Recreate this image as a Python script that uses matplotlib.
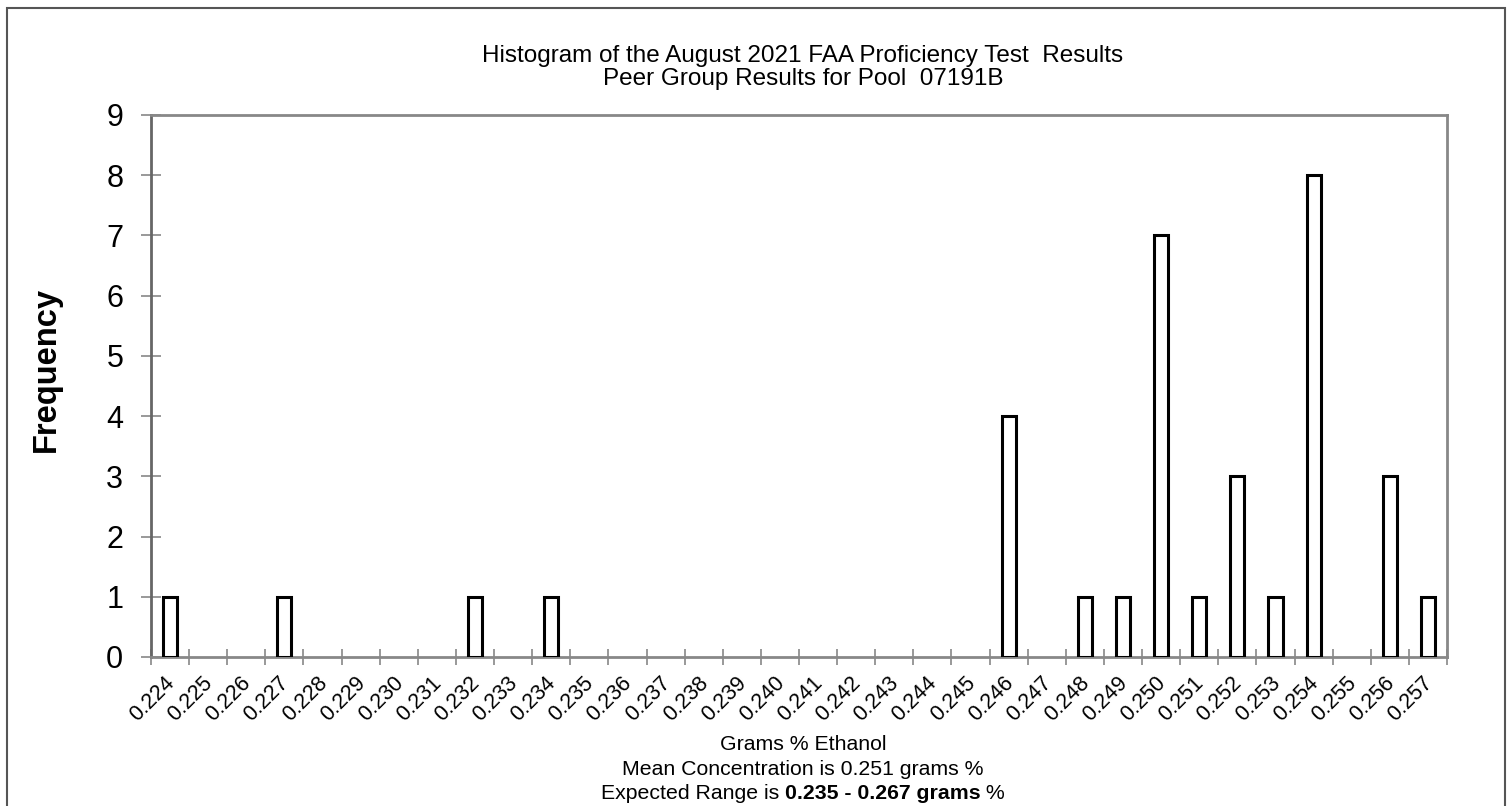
import matplotlib
matplotlib.use("Agg")
import matplotlib.pyplot as plt
from matplotlib.patches import Rectangle
from matplotlib.transforms import ScaledTranslation
import numpy as np

plt.rcParams['font.family'] = ['Liberation Sans', 'DejaVu Sans']

categories = ["0.224", "0.225", "0.226", "0.227", "0.228", "0.229", "0.230", "0.231",
              "0.232", "0.233", "0.234", "0.235", "0.236", "0.237", "0.238", "0.239",
              "0.240", "0.241", "0.242", "0.243", "0.244", "0.245", "0.246", "0.247",
              "0.248", "0.249", "0.250", "0.251", "0.252", "0.253", "0.254", "0.255",
              "0.256", "0.257"]
frequency = [1, 0, 0, 1, 0, 0, 0, 0,
             1, 0, 1, 0, 0, 0, 0, 0,
             0, 0, 0, 0, 0, 0, 4, 0,
             1, 1, 7, 1, 3, 1, 8, 0,
             3, 1]
y_ticks = [0, 1, 2, 3, 4, 5, 6, 7, 8, 9]

title_lines = ["Histogram of the August 2021 FAA Proficiency Test  Results",
               "Peer Group Results for Pool  07191B"]
x_title = "Grams % Ethanol"
mean_line = "Mean Concentration is 0.251 grams %"
range_parts = ["Expected Range is ", "0.235 - 0.267 grams", " %"]

W, H = 1507, 806
fig = plt.figure(figsize=(W / 100, H / 100), dpi=100)
ax = fig.add_axes([151 / W, 1 - 657 / H, (1447 - 151) / W, (657 - 115) / H])

x = np.arange(len(categories))
freq = np.array(frequency)
nz = freq > 0
ax.bar(x[nz], freq[nz], width=0.37, facecolor='white', edgecolor='black', linewidth=2.2, zorder=3)

ax.set_xlim(-0.5, len(categories) - 0.5)
ax.set_ylim(0, 9)

# major x ticks at category boundaries (no labels), minor ticks at centers with labels
ax.set_xticks(np.arange(len(categories) + 1) - 0.5)
ax.set_xticklabels([])
ax.set_xticks(x, minor=True)
ax.set_xticklabels(categories, minor=True, rotation=45, ha='right', rotation_mode='anchor',
                   fontsize=15.5)
ax.tick_params(axis='x', which='minor', length=0, pad=12)
ax.tick_params(axis='x', which='major', direction='inout', length=11, width=1.2, color='#888888')
shift = ScaledTranslation(-6 / 100, 1 / 100, fig.dpi_scale_trans)
for lab in ax.get_xticklabels(minor=True):
    lab.set_transform(lab.get_transform() + shift)

ax.set_yticks(y_ticks)
ax.set_yticklabels([str(v) for v in y_ticks], fontsize=22)
ax.tick_params(axis='y', direction='inout', length=14, width=1.2, color='#888888', pad=13)

for side in ['top', 'right', 'bottom']:
    ax.spines[side].set_color('#888888')
    ax.spines[side].set_linewidth(2)
ax.spines['left'].set_color('#666666')
ax.spines['left'].set_linewidth(2)

ax.set_ylabel("Frequency", fontsize=23.5, fontweight='bold')
ax.yaxis.set_label_coords((62 - 151) / 1296, (657 - 370) / 542)

cx = (151 + 1447) / 2 / W + 4 / W
fig.text(cx, 1 - 62 / H, title_lines[0], ha='center', va='baseline', fontsize=17.5)
fig.text(cx, 1 - 85 / H, title_lines[1], ha='center', va='baseline', fontsize=17.5)

fig.text(cx, 1 - 750 / H, x_title, ha='center', va='baseline', fontsize=15.3)
fig.text(cx, 1 - 775 / H, mean_line, ha='center', va='baseline', fontsize=15.3)

# mixed-weight third line
renderer = fig.canvas.get_renderer()
weights = ['normal', 'bold', 'normal']
texts = [fig.text(0, 1 - 799 / H, s, ha='left', va='baseline', fontsize=15.3, fontweight=w)
         for s, w in zip(range_parts, weights)]
widths = [t.get_window_extent(renderer).width for t in texts]
total = sum(widths)
start = cx * W - total / 2
for t, w in zip(texts, widths):
    t.set_x(start / W)
    start += w

# outer border
fig.patches.append(Rectangle((7 / W, -0.1), (1505 - 7) / W, 1.1 - 8 / H, transform=fig.transFigure,
                             fill=False, edgecolor='#555555', linewidth=1.5, clip_on=False))

fig.savefig("out.png", dpi=100)
